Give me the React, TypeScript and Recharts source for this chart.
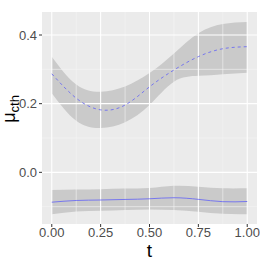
import React from "react";
import { ComposedChart, Area, Line, XAxis, YAxis, ReferenceLine } from "recharts";

const tValues = [0, 0.125, 0.25, 0.375, 0.5, 0.625, 0.75, 0.875, 1];
const upperMean = [0.287, 0.216, 0.182, 0.196, 0.249, 0.298, 0.337, 0.36, 0.366];
const upperLow = [0.23, 0.15, 0.129, 0.146, 0.196, 0.264, 0.281, 0.286, 0.29];
const upperHigh = [0.337, 0.256, 0.235, 0.25, 0.289, 0.346, 0.405, 0.432, 0.438];
const lowerMean = [-0.087, -0.082, -0.0806, -0.079, -0.077, -0.074, -0.0787, -0.0855, -0.085];
const lowerLow = [-0.122, -0.114, -0.112, -0.11, -0.108, -0.11, -0.115, -0.121, -0.122];
const lowerHigh = [-0.0515, -0.05, -0.049, -0.047, -0.0457, -0.039, -0.042, -0.0466, -0.0466];

const xTicks = [0, 0.25, 0.5, 0.75, 1];
const xMinor = [0.125, 0.375, 0.625, 0.875];
const yTicks = [0, 0.2, 0.4];
const yMinor = [-0.1, 0.1, 0.3];

const data = tValues.map((t, i) => ({
  t,
  upperMean: upperMean[i],
  upperBand: [upperLow[i], upperHigh[i]],
  lowerMean: lowerMean[i],
  lowerBand: [lowerLow[i], lowerHigh[i]],
}));

const tickStyle = { fill: "#4D4D4D", fontSize: 13, fontFamily: "Liberation Sans, Arial, sans-serif" };

const YLabel = () => (
  <text
    transform="translate(15,109) rotate(-90)"
    textAnchor="middle"
    fill="#000"
    fontFamily="Liberation Sans, Arial, sans-serif"
  >
    <tspan fontSize={18}>μ</tspan>
    <tspan fontSize={13} dy={4}>cth</tspan>
  </text>
);

export default function App() {
  return (
    <div style={{ position: "absolute", left: 0, top: 0, width: 260, height: 260, background: "#fff" }}>
      <ComposedChart width={260} height={260} data={data} margin={{ top: 12, right: 3, bottom: 0, left: 0 }}>
        <rect x={42} y={12} width={215} height={212} fill="#EBEBEB" />
        <XAxis
          dataKey="t"
          type="number"
          domain={[-0.05, 1.05]}
          ticks={xTicks}
          tickFormatter={(v: number) => v.toFixed(2)}
          allowDataOverflow
          height={36}
          axisLine={false}
          tickSize={3}
          tickLine={{ stroke: "#333" }}
          tick={tickStyle}
          tickMargin={1}
          label={{ value: "t", position: "insideBottom", offset: 3, fill: "#000", fontSize: 19, fontFamily: "Liberation Sans, Arial, sans-serif" }}
        />
        <YAxis
          type="number"
          domain={[-0.1505, 0.467]}
          ticks={yTicks}
          tickFormatter={(v: number) => v.toFixed(1)}
          allowDataOverflow
          width={42}
          axisLine={false}
          tickSize={3}
          tickLine={{ stroke: "#333" }}
          tick={tickStyle}
          tickMargin={2}
          label={<YLabel />}
        />
        {xMinor.map((v) => (
          <ReferenceLine key={"xm" + v} x={v} stroke="#F5F5F5" strokeWidth={0.6} />
        ))}
        {yMinor.map((v) => (
          <ReferenceLine key={"ym" + v} y={v} stroke="#F5F5F5" strokeWidth={0.6} />
        ))}
        {xTicks.map((v) => (
          <ReferenceLine key={"x" + v} x={v} stroke="#FFFFFF" strokeWidth={1.1} />
        ))}
        {yTicks.map((v) => (
          <ReferenceLine key={"y" + v} y={v} stroke="#FFFFFF" strokeWidth={1.1} />
        ))}
        <Area
          dataKey="upperBand"
          type="natural"
          fill="#999999"
          fillOpacity={0.4}
          stroke="none"
          isAnimationActive={false}
        />
        <Area
          dataKey="lowerBand"
          type="natural"
          fill="#999999"
          fillOpacity={0.4}
          stroke="none"
          isAnimationActive={false}
        />
        <Line
          dataKey="upperMean"
          type="natural"
          stroke="#7777EE"
          strokeWidth={1}
          strokeDasharray="3 3"
          dot={false}
          isAnimationActive={false}
        />
        <Line
          dataKey="lowerMean"
          type="natural"
          stroke="#7777EE"
          strokeWidth={1}
          dot={false}
          isAnimationActive={false}
        />
      </ComposedChart>
    </div>
  );
}
